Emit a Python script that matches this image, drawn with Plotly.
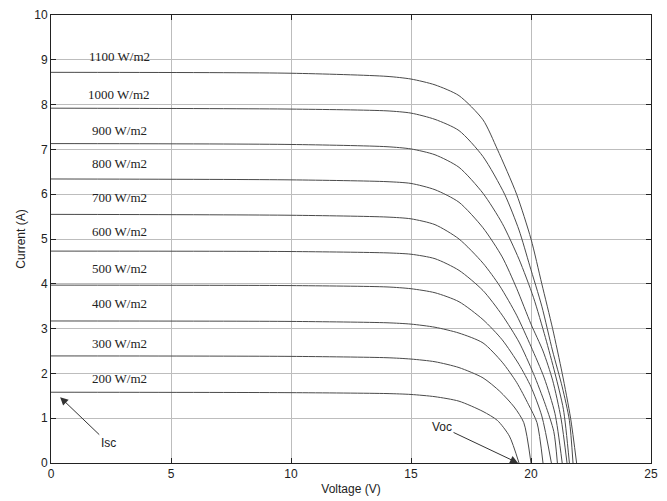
import plotly.graph_objects as go

# Irradiance levels (labels)
labels = ["1100 W/m2", "1000 W/m2", "900 W/m2", "800 W/m2", "700 W/m2",
          "600 W/m2", "500 W/m2", "400 W/m2", "300 W/m2", "200 W/m2"]

# Read-off points for each I-V curve (voltage V, current A)
v_1100 = [0, 10, 14, 15, 16, 17, 18, 18.6, 19.4, 20.0, 20.45, 20.9, 21.3, 21.65, 21.9]
i_1100 = [8.72, 8.70, 8.63, 8.57, 8.44, 8.20, 7.66, 7.00, 6.00, 5.00, 4.00, 3.00, 2.00, 1.00, 0]

v_1000 = [0, 10, 14, 15, 16, 17, 18, 18.9, 19.5, 19.95, 20.45, 20.9, 21.3, 21.6, 21.75]
i_1000 = [7.92, 7.90, 7.86, 7.81, 7.67, 7.42, 6.84, 6.00, 5.20, 4.40, 3.50, 2.50, 1.70, 0.95, 0]

v_900 = [0, 10, 14, 15, 16, 17, 18, 18.8, 19.5, 20.1, 20.6, 21.0, 21.35, 21.6]
i_900 = [7.13, 7.11, 7.06, 7.01, 6.88, 6.60, 6.02, 5.35, 4.55, 3.70, 2.80, 2.00, 1.20, 0]

v_800 = [0, 10, 14, 15, 16, 17, 18, 18.8, 19.4, 20.0, 20.5, 20.9, 21.25, 21.5]
i_800 = [6.34, 6.32, 6.28, 6.24, 6.10, 5.82, 5.25, 4.60, 3.90, 3.10, 2.50, 1.85, 1.00, 0]

v_700 = [0, 10, 14, 15, 16, 17, 18, 18.7, 19.4, 20.0, 20.55, 21.0, 21.3]
i_700 = [5.55, 5.53, 5.49, 5.45, 5.32, 5.00, 4.46, 3.95, 3.30, 2.60, 1.90, 1.10, 0]

v_600 = [0, 10, 14, 15, 16, 17, 18, 18.8, 19.5, 20.1, 20.6, 20.95, 21.1]
i_600 = [4.73, 4.72, 4.69, 4.66, 4.56, 4.30, 3.85, 3.30, 2.70, 2.00, 1.30, 0.70, 0]

v_500 = [0, 10, 14, 15, 16, 17, 18, 18.8, 19.5, 20.0, 20.45, 20.85]
i_500 = [3.97, 3.96, 3.93, 3.89, 3.80, 3.60, 3.20, 2.75, 2.20, 1.70, 1.05, 0]

v_400 = [0, 10, 14, 15, 16, 17, 18, 18.8, 19.4, 19.9, 20.25, 20.5]
i_400 = [3.17, 3.16, 3.13, 3.10, 3.03, 2.90, 2.68, 2.25, 1.80, 1.30, 0.90, 0]

v_300 = [0, 10, 14, 15, 16, 17, 18, 18.7, 19.3, 19.7, 20.0]
i_300 = [2.39, 2.38, 2.35, 2.32, 2.26, 2.13, 1.90, 1.60, 1.25, 0.90, 0]

v_200 = [0, 10, 14, 15, 16, 17, 18, 18.6, 19.1, 19.5]
i_200 = [1.58, 1.57, 1.55, 1.53, 1.48, 1.38, 1.15, 0.95, 0.60, 0]

# Label anchor positions (data units)
label_x = [2.85] * 10
label_y = [9.08, 8.23, 7.43, 6.69, 5.92, 5.16, 4.35, 3.55, 2.67, 1.89]

x_ticks = [0, 5, 10, 15, 20, 25]
y_ticks = [0, 1, 2, 3, 4, 5, 6, 7, 8, 9, 10]

curves = [(v_1100, i_1100), (v_1000, i_1000), (v_900, i_900), (v_800, i_800),
          (v_700, i_700), (v_600, i_600), (v_500, i_500), (v_400, i_400),
          (v_300, i_300), (v_200, i_200)]

fig = go.Figure()
for (vv, ii), name in zip(curves, labels):
    fig.add_trace(go.Scatter(x=vv, y=ii, mode="lines", name=name,
                             line=dict(color="#4a4a4a", width=1, shape="spline", smoothing=0.7),
                             showlegend=False, hoverinfo="skip", cliponaxis=True))

for lx, ly, txt in zip(label_x, label_y, labels):
    fig.add_annotation(x=lx, y=ly, text=txt, showarrow=False,
                       font=dict(family="Liberation Serif, Times New Roman, serif", size=13, color="#222"))

fig.add_annotation(x=0.38, y=1.47, text="Isc", showarrow=True, ax=48, ay=46,
                   arrowhead=2, arrowsize=1.6, arrowwidth=1, arrowcolor="#333",
                   font=dict(family="Liberation Sans, Arial, sans-serif", size=12, color="#222"))
fig.add_annotation(x=19.46, y=0.0, text="Voc", showarrow=True, ax=-76, ay=-36,
                   arrowhead=2, arrowsize=1.6, arrowwidth=1, arrowcolor="#333",
                   font=dict(family="Liberation Sans, Arial, sans-serif", size=12, color="#222"))

axis_common = dict(showgrid=True, gridcolor="#bdbdbd", gridwidth=1, automargin=False,
                   showline=True, linecolor="#222", linewidth=1, mirror="ticks",
                   ticks="inside", ticklen=5, tickcolor="#222", zeroline=False,
                   tickfont=dict(family="Liberation Sans, Arial, sans-serif", size=12, color="#222"))

fig.update_xaxes(range=[0, 25], tickvals=x_ticks,
                 title=dict(text="Voltage (V)", standoff=4,
                            font=dict(family="Liberation Sans, Arial, sans-serif", size=12, color="#222")),
                 **axis_common)
fig.update_yaxes(range=[0, 10], tickvals=y_ticks,
                 title=dict(text="Current (A)", standoff=6,
                            font=dict(family="Liberation Sans, Arial, sans-serif", size=12, color="#222")),
                 **axis_common)

fig.update_layout(width=667, height=501,
                  margin=dict(l=51, r=16, t=15, b=38, autoexpand=False),
                  paper_bgcolor="white", plot_bgcolor="white")

fig.write_html("out.html", config={"displayModeBar": False},
               post_script="document.body.style.margin='0';document.body.style.overflow='hidden';")
